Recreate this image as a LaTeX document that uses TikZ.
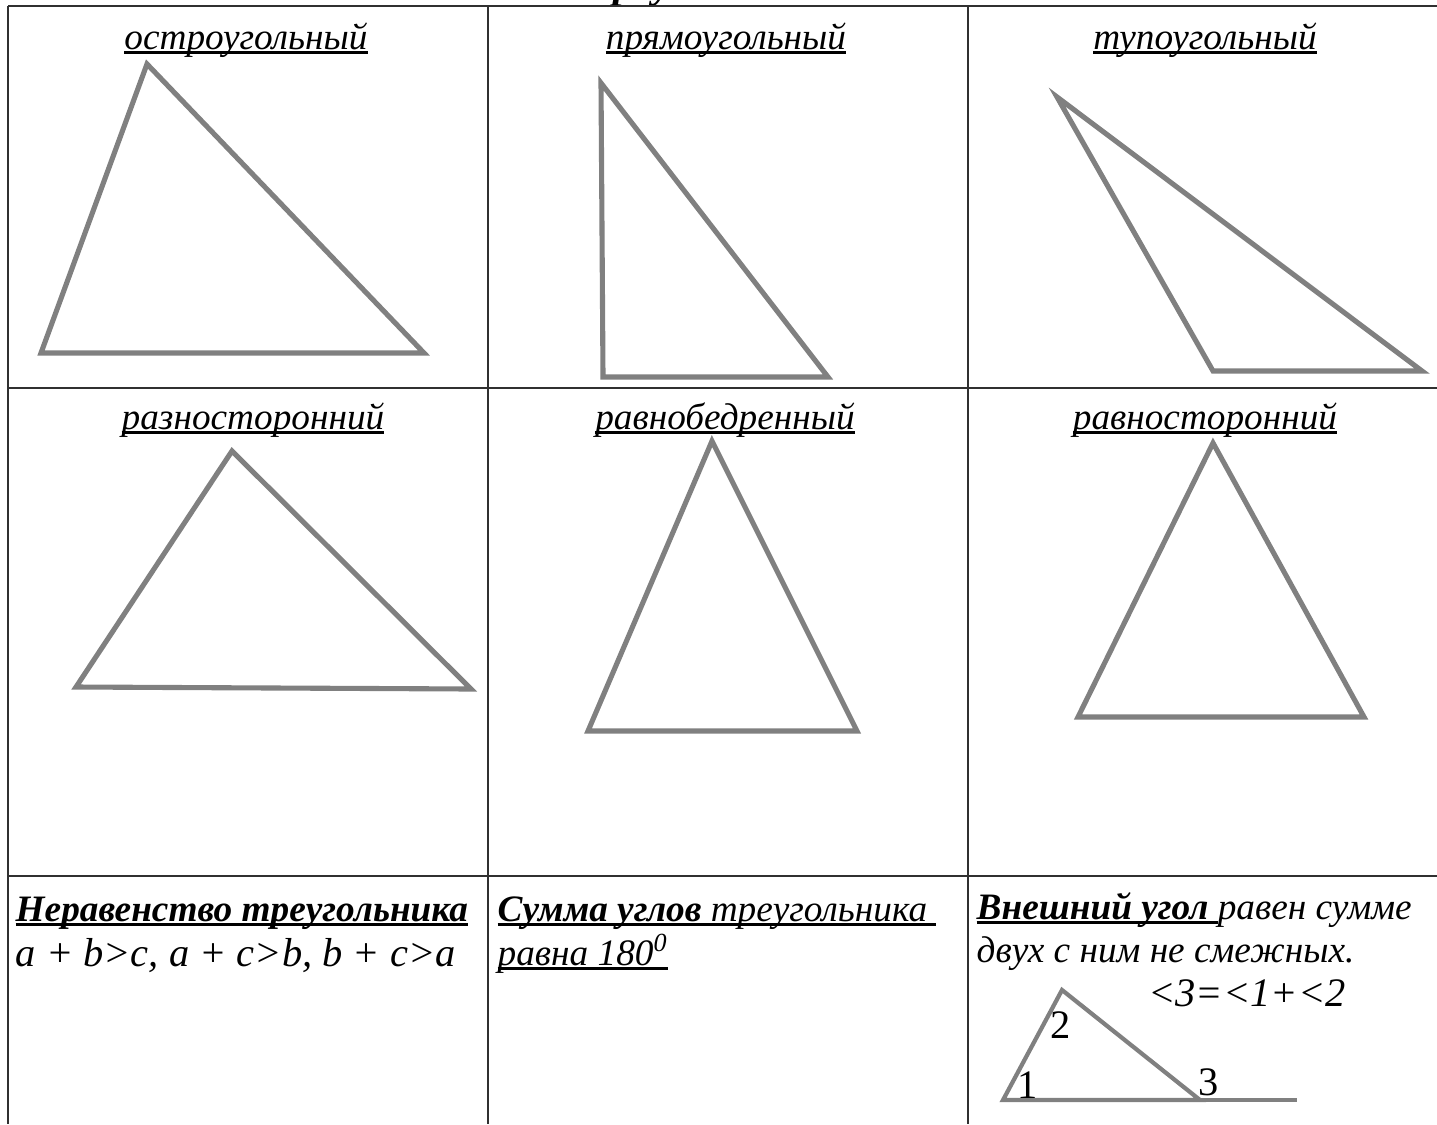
\documentclass[tikz,border=0pt]{standalone}
\usepackage{fontspec}
\setmainfont{Liberation Serif}
\usetikzlibrary{positioning}
\definecolor{trigray}{HTML}{808080}
\definecolor{rulegray}{HTML}{303030}
\newcommand{\undl}[1]{\leavevmode\setbox0=\hbox{#1}\rlap{\rule[-1.3pt]{\wd0}{0.6pt}}\box0}
\tikzset{
  tri/.style={draw=trigray, line width=1.45pt, line join=miter},
  tableline/.style={draw=rulegray, line width=0.35pt},
  kindname/.style={anchor=base, inner sep=0pt, font=\itshape\fontsize{10.6}{14}\selectfont},
  celltext/.style={anchor=base west, inner sep=0pt, font=\itshape\fontsize{10.6}{14}\selectfont},
  formula/.style={anchor=base west, inner sep=0pt, font=\itshape\fontsize{11.5}{14}\selectfont},
  anglenum/.style={inner sep=0pt, font=\fontsize{11.5}{14}\selectfont},
  titletext/.style={anchor=base west, inner sep=0pt, font=\bfseries\itshape\fontsize{12}{14}\selectfont}
}

\begin{document}
\begin{tikzpicture}[x=0.01cm, y=-0.01cm]
\useasboundingbox (0,0) rectangle (1437,1124);

% title, cut by the page edge
\node[titletext] (title) at (588,-2) {Треугольники};

% table
\draw[tableline] (8,6) -- (1437,6);
\draw[tableline] (8,388) -- (1437,388);
\draw[tableline] (8,876) -- (1437,876);
\draw[tableline] (8,6) -- (8,1124);
\draw[tableline] (488,6) -- (488,1124);
\draw[tableline] (968,6) -- (968,1124);

% row 1: by angles
\node[kindname] (acute) at (246,49) {\undl{остроугольный}};
\node[kindname] (right) at (726,49) {\undl{прямоугольный}};
\node[kindname] (obtuse) at (1205,49) {\undl{тупоугольный}};

\draw[tri] (147,64) -- (41,353) -- (424,353) -- cycle;
\draw[tri] (601,83) -- (603,377) -- (828,377) -- cycle;
\draw[tri] (1057,97) -- (1213,371) -- (1422,371) -- cycle;

% row 2: by sides
\node[kindname] (scalene) at (253,429) {\undl{разносторонний}};
\node[kindname] (isosceles) at (725,429) {\undl{равнобедренный}};
\node[kindname] (equilateral) at (1205,429) {\undl{равносторонний}};

\draw[tri] (232,451) -- (76,687) -- (471,689) -- cycle;
\draw[tri] (712,441) -- (588,731) -- (857,731) -- cycle;
\draw[tri] (1213,443) -- (1078,717) -- (1364,717) -- cycle;

% row 3: properties
\node[celltext] (ineqhead) at (15,921) {\undl{\bfseries Неравенство треугольника}};
\node[formula] (ineq) at (15,966) {a + b>c, a + c>b, b + c>a};

\node[celltext] (sumhead) at (497,921) {\undl{\textbf{Сумма углов} треугольника }};
\node[celltext] (sum) at (497,965) {\undl{равна 180\textsuperscript{0}}};

\node[celltext] (exthead) at (976,919) {\undl{\textbf{Внешний угол} }равен сумме};
\node[celltext] (ext) at (976,962) {двух с ним не смежных.};
\node[formula, anchor=base] (extrule) at (1247,1006) {<3=<1+<2};

\draw[tri, line width=1.2pt] (1062,990) -- (1003,1100) -- (1200,1100) -- cycle;
\draw[tri, line width=1.2pt] (1200,1100) -- (1297,1100);
\node[anglenum] (angA) at (1028,1085) {1};
\node[anglenum] (angB) at (1061,1025) {2};
\node[anglenum] (angC) at (1209,1082) {3};

\end{tikzpicture}
\end{document}
